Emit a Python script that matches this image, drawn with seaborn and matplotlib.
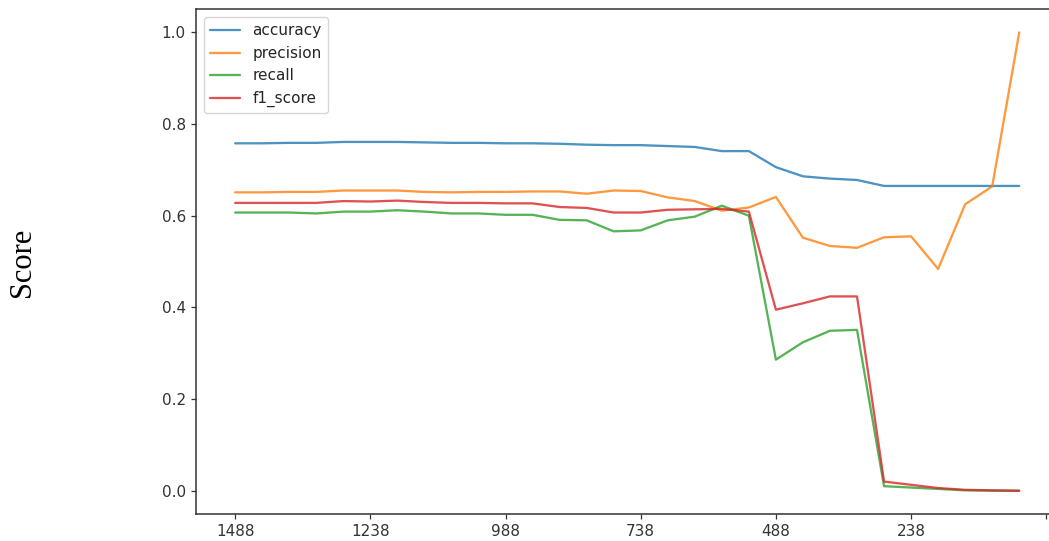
import matplotlib
matplotlib.use("Agg")
import matplotlib.pyplot as plt
import seaborn as sns
import pandas as pd

# Number of retained samples at each step (one point per step)
sample_sizes = [1488, 1438, 1388, 1338, 1288, 1238, 1188, 1138, 1088, 1038,
                988, 938, 888, 838, 788, 738, 688, 638, 588, 538,
                488, 438, 388, 338, 288, 238, 188, 138, 88, 38]

accuracy = [0.758, 0.758, 0.759, 0.759, 0.761, 0.761, 0.761, 0.760, 0.759, 0.759,
            0.758, 0.758, 0.757, 0.755, 0.754, 0.754, 0.752, 0.750, 0.741, 0.741,
            0.706, 0.686, 0.681, 0.678, 0.665, 0.665, 0.665, 0.665, 0.665, 0.665]

precision = [0.651, 0.651, 0.652, 0.652, 0.655, 0.655, 0.655, 0.652, 0.651, 0.652,
             0.652, 0.653, 0.653, 0.648, 0.655, 0.654, 0.640, 0.632, 0.611, 0.618,
             0.641, 0.552, 0.534, 0.530, 0.553, 0.555, 0.484, 0.625, 0.664, 1.000]

recall = [0.607, 0.607, 0.607, 0.605, 0.609, 0.609, 0.612, 0.609, 0.605, 0.605,
          0.602, 0.602, 0.591, 0.590, 0.566, 0.568, 0.590, 0.598, 0.622, 0.600,
          0.286, 0.324, 0.349, 0.351, 0.010, 0.007, 0.004, 0.001, 0.000, 0.000]

f1_score = [0.628, 0.628, 0.628, 0.628, 0.632, 0.631, 0.633, 0.630, 0.628, 0.628,
            0.627, 0.627, 0.619, 0.617, 0.607, 0.607, 0.613, 0.614, 0.615, 0.609,
            0.395, 0.409, 0.424, 0.424, 0.020, 0.013, 0.006, 0.002, 0.001, 0.000]

metric_names = ["accuracy", "precision", "recall", "f1_score"]
tick_labels = ["1488", "1238", "988", "738", "488", "238", ""]

sns.set_style("ticks")
plt.rcParams.update({
    "axes.edgecolor": "0.2",
    "axes.linewidth": 1.1,
    "xtick.major.size": 3.8,
    "ytick.major.size": 3.8,
    "xtick.major.width": 0.9,
    "ytick.major.width": 0.9,
    "xtick.color": "0.2",
    "ytick.color": "0.2",
    "text.color": "0.15",
    "font.size": 11,
})
plt.rcParams["font.family"] = ["DejaVu Sans"]

series = {"accuracy": accuracy, "precision": precision,
          "recall": recall, "f1_score": f1_score}
frames = []
for name in metric_names:
    frames.append(pd.DataFrame({
        "step": range(len(sample_sizes)),
        "samples": sample_sizes,
        "metric": name,
        "value": series[name],
    }))
df = pd.concat(frames, ignore_index=True)

fig = plt.figure(figsize=(10.49, 5.41), dpi=100)
# the axes runs a little past the right edge of the canvas
ax = fig.add_axes([0.1868, 0.0505, 0.8222, 0.932])

palette = sns.color_palette("tab10", 4)
sns.lineplot(data=df, x="step", y="value", hue="metric", hue_order=metric_names,
             palette=palette, alpha=0.8, linewidth=1.65, ax=ax, legend=False)

handles = [plt.Line2D([], [], color=c, alpha=0.8, linewidth=1.65) for c in palette]
ax.legend(handles, metric_names, loc="upper left", fontsize=11, framealpha=0.8,
          fancybox=True, edgecolor="0.8")

ax.set_xlim(-1.45, 30.45)
ax.set_ylim(-0.05, 1.05)
ax.set_xticks(range(0, 31, 5))
ax.set_xticklabels(tick_labels)
ax.set_yticks([0.0, 0.2, 0.4, 0.6, 0.8, 1.0])
ax.tick_params(labelsize=11)
ax.set_xlabel("")
ax.set_ylabel("")

fig.text(22.5 / 1049, 1 - 262 / 541, "Score", rotation=90, ha="center", va="center",
         fontsize=22, family=["Liberation Serif"], color="black")

fig.savefig("out.png", dpi=100)
